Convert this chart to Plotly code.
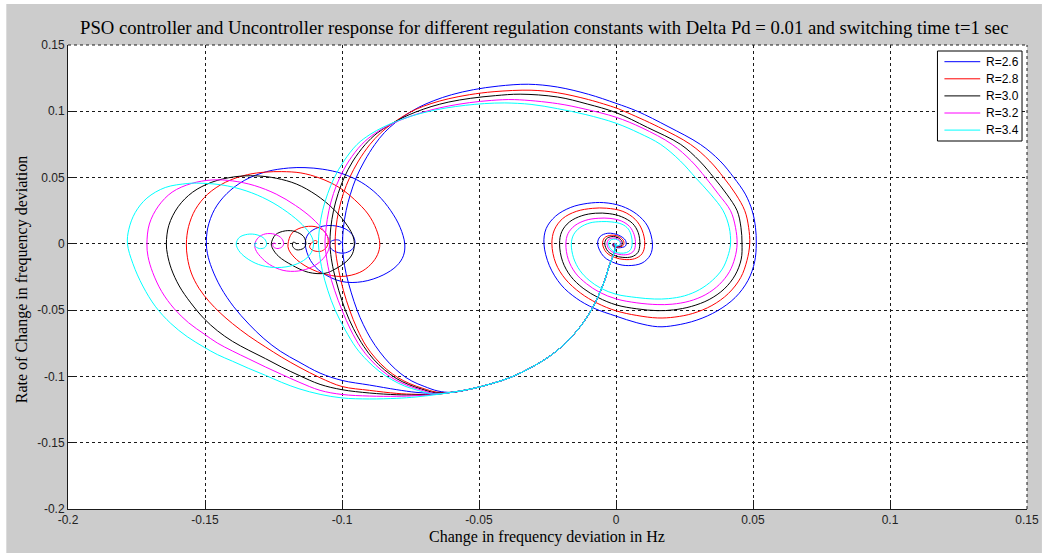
import plotly.graph_objects as go

# ---- data -------------------------------------------------------------
R_LABELS = ["R=2.6", "R=2.8", "R=3.0", "R=3.2", "R=3.4"]
LINE_COLORS = ["#0000ff", "#ff0000", "#000000", "#ff00ff", "#00ffff"]

# (frequency deviation, rate of change) points.
# Common part of every trajectory before switching (t < 1 s).
PRE_SWITCH = [(0, 0), (-0.0008, -0.0075), (-0.0022, -0.015), (-0.0045, -0.0296),
              (-0.0085, -0.048), (-0.013, -0.0623), (-0.0188, -0.0756), (-0.0248, -0.0856),
              (-0.0309, -0.0932), (-0.0382, -0.1005), (-0.0455, -0.1055), (-0.053, -0.1095),
              (-0.060, -0.112)]

# Uncontrolled response after t = 1 s (settles at a non-zero deviation).
UNC_26 = [(-0.066, -0.1128), (-0.073, -0.112), (-0.08, -0.110), (-0.09, -0.1065), (-0.1, -0.103),
          (-0.108, -0.0975), (-0.1157, -0.0891), (-0.1225, -0.081), (-0.1285, -0.0715),
          (-0.134, -0.0605), (-0.1395, -0.0475), (-0.1442, -0.033), (-0.1475, -0.0185),
          (-0.1491, -0.0075), (-0.1495, 0), (-0.149, 0.012), (-0.1465, 0.026), (-0.142, 0.038),
          (-0.1355, 0.048), (-0.1275, 0.0545), (-0.1195, 0.0572), (-0.1135, 0.0575),
          (-0.107, 0.0563), (-0.1, 0.053), (-0.093, 0.0465), (-0.087, 0.037), (-0.0822, 0.025),
          (-0.0788, 0.0125), (-0.0771, 0), (-0.0776, -0.009), (-0.08, -0.0165), (-0.085, -0.0235),
          (-0.0925, -0.0285), (-0.1001, -0.0284), (-0.1074, -0.0215), (-0.1115, -0.0125),
          (-0.1134, 0), (-0.1123, 0.0075), (-0.1085, 0.0125), (-0.1035, 0.0138), (-0.0985, 0.011),
          (-0.0958, 0.0055), (-0.0953, 0), (-0.0965, -0.0045), (-0.0995, -0.007),
          (-0.1028, -0.0055), (-0.1045, -0.002), (-0.1042, 0.0015), (-0.1025, 0.003),
          (-0.1008, 0.0025), (-0.1003, 0.001), (-0.101, -0.0005), (-0.1015, 0)]

UNC_28 = [(-0.066, -0.1135), (-0.073, -0.1135), (-0.08, -0.1128), (-0.09, -0.1105), (-0.1, -0.1076),
          (-0.108, -0.101), (-0.1157, -0.0929), (-0.122, -0.0855), (-0.1279, -0.0778),
          (-0.134, -0.0695), (-0.14, -0.0601), (-0.1445, -0.052), (-0.1484, -0.0437),
          (-0.1522, -0.0335), (-0.155, -0.022), (-0.1564, -0.0105), (-0.1568, 0), (-0.156, 0.013),
          (-0.1535, 0.026), (-0.149, 0.0375), (-0.1425, 0.0465), (-0.1345, 0.0522),
          (-0.128, 0.0541), (-0.122, 0.0545), (-0.115, 0.0535), (-0.108, 0.0495), (-0.101, 0.0425),
          (-0.0955, 0.0335), (-0.0905, 0.0225), (-0.0875, 0.011), (-0.0862, 0), (-0.087, -0.008),
          (-0.0895, -0.0155), (-0.0935, -0.0215), (-0.1001, -0.0246), (-0.1074, -0.0221),
          (-0.1135, -0.0165), (-0.1175, -0.01), (-0.1195, -0.004), (-0.1197, 0), (-0.1183, 0.008),
          (-0.1147, 0.0123), (-0.1098, 0.013), (-0.1065, 0.0095), (-0.1051, 0.004),
          (-0.1055, -0.002), (-0.1075, -0.0055), (-0.1105, -0.005), (-0.1118, -0.0025),
          (-0.1112, 0.0005), (-0.1097, 0.0025), (-0.109, 0.0015), (-0.1094, 0.0005), (-0.1096, 0)]

UNC_30 = [(-0.066, -0.1135), (-0.073, -0.114), (-0.08, -0.1138), (-0.09, -0.1125), (-0.1, -0.110),
          (-0.108, -0.106), (-0.1157, -0.0992), (-0.122, -0.093), (-0.1279, -0.0866),
          (-0.134, -0.0803), (-0.14, -0.0735), (-0.1455, -0.0655), (-0.1503, -0.0565),
          (-0.1552, -0.0445), (-0.1594, -0.0318), (-0.1623, -0.0188), (-0.1637, -0.008),
          (-0.1641, 0), (-0.1632, 0.014), (-0.1598, 0.028), (-0.1545, 0.039), (-0.1475, 0.0465),
          (-0.1395, 0.0505), (-0.1315, 0.0513), (-0.124, 0.0495), (-0.1165, 0.045),
          (-0.1095, 0.037), (-0.1035, 0.027), (-0.099, 0.0165), (-0.0962, 0.007), (-0.0955, 0),
          (-0.0962, -0.0075), (-0.0985, -0.0135), (-0.1025, -0.019), (-0.1062, -0.0222),
          (-0.1122, -0.0215), (-0.1183, -0.016), (-0.1231, -0.0095), (-0.1252, -0.004),
          (-0.1258, 0), (-0.1243, 0.0068), (-0.1207, 0.0098), (-0.1171, 0.0093), (-0.114, 0.0055),
          (-0.1132, 0), (-0.114, -0.0033), (-0.1165, -0.0045), (-0.118, -0.002),
          (-0.1178, 0.0013), (-0.1165, 0)]

UNC_32 = [(-0.066, -0.1135), (-0.073, -0.1145), (-0.08, -0.115), (-0.09, -0.1148), (-0.1, -0.1136),
          (-0.108, -0.1105), (-0.1157, -0.1043), (-0.122, -0.0985), (-0.1279, -0.0929),
          (-0.134, -0.0868), (-0.14, -0.0808), (-0.1455, -0.0748), (-0.1503, -0.068),
          (-0.156, -0.0595), (-0.1612, -0.049), (-0.1658, -0.036), (-0.1691, -0.0215),
          (-0.1708, -0.0095), (-0.1712, 0), (-0.1703, 0.015), (-0.167, 0.0285), (-0.162, 0.039),
          (-0.155, 0.0455), (-0.1474, 0.0482), (-0.14, 0.0475), (-0.132, 0.044), (-0.124, 0.0375),
          (-0.117, 0.029), (-0.111, 0.0195), (-0.1065, 0.0095), (-0.1048, 0.0035), (-0.1045, 0),
          (-0.1052, -0.006), (-0.1075, -0.0125), (-0.111, -0.0175), (-0.116, -0.0205),
          (-0.1215, -0.02), (-0.1265, -0.0155), (-0.1298, -0.0095), (-0.1315, -0.0045),
          (-0.1318, 0), (-0.1305, 0.0048), (-0.128, 0.0075), (-0.1245, 0.0072), (-0.122, 0.004),
          (-0.1213, 0), (-0.122, -0.0025), (-0.1238, -0.0035), (-0.1252, -0.0018),
          (-0.125, 0.0006), (-0.1241, 0)]

UNC_34 = [(-0.066, -0.1138), (-0.073, -0.1155), (-0.08, -0.1165), (-0.09, -0.117), (-0.1, -0.1162),
          (-0.108, -0.1135), (-0.1157, -0.1093), (-0.122, -0.1045), (-0.1279, -0.0992),
          (-0.134, -0.094), (-0.14, -0.0885), (-0.1455, -0.0835), (-0.1503, -0.078),
          (-0.1565, -0.070), (-0.1625, -0.060), (-0.168, -0.0475), (-0.1727, -0.0318),
          (-0.1763, -0.015), (-0.1783, 0), (-0.1778, 0.011), (-0.1755, 0.0235), (-0.1712, 0.0345),
          (-0.1645, 0.0425), (-0.1565, 0.0455), (-0.153, 0.0458), (-0.144, 0.0445), (-0.135, 0.04),
          (-0.127, 0.033), (-0.12, 0.024), (-0.1145, 0.0145), (-0.1112, 0.006), (-0.1104, 0),
          (-0.1112, -0.0065), (-0.114, -0.0125), (-0.119, -0.0168), (-0.125, -0.0178),
          (-0.1305, -0.0155), (-0.135, -0.0105), (-0.1377, -0.005), (-0.1386, 0),
          (-0.1375, 0.0048), (-0.1345, 0.0072), (-0.131, 0.0068), (-0.1283, 0.0038),
          (-0.1275, 0), (-0.1282, -0.0028), (-0.1302, -0.0035), (-0.1318, -0.0015),
          (-0.1316, 0.0008), (-0.131, 0)]

# PSO-controlled response after t = 1 s (returns to zero deviation).
CTRL_26 = [(-0.065, -0.111), (-0.070, -0.1075), (-0.0745, -0.1035), (-0.0785, -0.098),
           (-0.0825, -0.0905), (-0.0862, -0.0815), (-0.0895, -0.0715), (-0.0922, -0.061),
           (-0.0945, -0.05), (-0.0966, -0.037), (-0.0985, -0.0225), (-0.0995, -0.01),
           (-0.0998, 0), (-0.0995, 0.012), (-0.0985, 0.025), (-0.097, 0.037), (-0.0948, 0.05),
           (-0.0918, 0.0625), (-0.088, 0.075), (-0.0845, 0.084), (-0.0805, 0.0915),
           (-0.0765, 0.0975), (-0.072, 0.103), (-0.0665, 0.108), (-0.06, 0.1125), (-0.052, 0.1163),
           (-0.043, 0.119), (-0.032, 0.1204), (-0.0214, 0.1183), (-0.01, 0.1128), (0, 0.106),
           (0.0078, 0.1), (0.019, 0.0885), (0.0308, 0.075), (0.038, 0.0625), (0.043, 0.05),
           (0.0472, 0.0375), (0.0497, 0.025), (0.0509, 0.0125), (0.0512, 0), (0.0506, -0.0135),
           (0.0482, -0.0275), (0.0435, -0.0405), (0.037, -0.0505), (0.0295, -0.0575),
           (0.0215, -0.0615), (0.0152, -0.0625), (0.0076, -0.0595), (0, -0.0545),
           (-0.0081, -0.0485), (-0.0145, -0.041), (-0.02, -0.031), (-0.0243, -0.0165),
           (-0.0263, 0), (-0.0255, 0.0115), (-0.022, 0.021), (-0.0165, 0.0275), (-0.0105, 0.0305),
           (-0.0045, 0.0311), (0.002, 0.0285), (0.0075, 0.0225), (0.0115, 0.0135), (0.0133, 0),
           (0.0125, -0.0085), (0.0095, -0.0145), (0.0045, -0.0164), (0, -0.0148),
           (-0.0045, -0.0095), (-0.0067, 0), (-0.0058, 0.0055), (-0.003, 0.008), (0.001, 0.0065),
           (0.0035, 0.0025), (0.0035, -0.0015), (0.001, -0.003), (-0.001, -0.002), (-0.0012, 0),
           (0, 0)]

CTRL_28 = [(-0.0655, -0.1118), (-0.0705, -0.109), (-0.0752, -0.1055), (-0.0795, -0.101),
           (-0.0838, -0.0945), (-0.0878, -0.0862), (-0.0912, -0.077), (-0.0945, -0.064),
           (-0.0972, -0.05), (-0.0995, -0.035), (-0.1012, -0.02), (-0.1022, -0.008), (-0.1025, 0),
           (-0.1022, 0.012), (-0.1012, 0.025), (-0.0995, 0.038), (-0.0972, 0.05), (-0.094, 0.0625),
           (-0.0898, 0.075), (-0.086, 0.0835), (-0.0818, 0.0905), (-0.0775, 0.0965),
           (-0.073, 0.1015), (-0.0675, 0.1058), (-0.061, 0.1095), (-0.0535, 0.1125),
           (-0.0445, 0.1148), (-0.031, 0.1159), (-0.0214, 0.114), (-0.01, 0.1088), (0, 0.1025),
           (0.003, 0.1), (0.0155, 0.0882), (0.0272, 0.075), (0.0342, 0.0625), (0.0393, 0.05),
           (0.0437, 0.0375), (0.047, 0.025), (0.0484, 0.0125), (0.0488, 0), (0.0478, -0.0125),
           (0.0455, -0.0255), (0.041, -0.0375), (0.035, -0.0465), (0.028, -0.0525),
           (0.0215, -0.0552), (0.0152, -0.0559), (0.0076, -0.054), (0, -0.0505),
           (-0.0069, -0.0447), (-0.013, -0.037), (-0.0185, -0.0265), (-0.022, -0.0145),
           (-0.0234, 0), (-0.0225, 0.0105), (-0.0195, 0.019), (-0.0145, 0.0245), (-0.0085, 0.0268),
           (-0.0035, 0.0269), (0.0025, 0.0245), (0.007, 0.0185), (0.0095, 0.0105), (0.0105, 0),
           (0.0095, -0.0075), (0.0068, -0.0112), (0.003, -0.0118), (-0.0005, -0.0102),
           (-0.0035, -0.0065), (-0.0049, 0), (-0.0042, 0.0045), (-0.0018, 0.0065), (0.001, 0.0055),
           (0.0028, 0.002), (0.0026, -0.0012), (0.0008, -0.0025), (-0.0008, -0.0018), (-0.001, 0),
           (0, 0)]

CTRL_30 = [(-0.066, -0.1123), (-0.071, -0.1095), (-0.0758, -0.106), (-0.0802, -0.1015),
           (-0.0845, -0.095), (-0.0885, -0.087), (-0.092, -0.0775), (-0.0958, -0.064),
           (-0.0988, -0.05), (-0.1012, -0.035), (-0.1031, -0.02), (-0.1041, -0.008), (-0.1044, 0),
           (-0.1041, 0.012), (-0.1031, 0.025), (-0.1014, 0.038), (-0.0992, 0.05), (-0.096, 0.0625),
           (-0.0915, 0.075), (-0.0872, 0.0835), (-0.0828, 0.0895), (-0.078, 0.095),
           (-0.073, 0.0995), (-0.0675, 0.1035), (-0.061, 0.107), (-0.053, 0.1098),
           (-0.044, 0.1118), (-0.035, 0.1129), (-0.0214, 0.1108), (-0.0105, 0.1055), (0, 0.099),
           (0.0115, 0.0878), (0.0236, 0.075), (0.0305, 0.0625), (0.0357, 0.05), (0.0404, 0.0375),
           (0.0442, 0.025), (0.0456, 0.0125), (0.046, 0), (0.0457, -0.0115), (0.0435, -0.0235),
           (0.0395, -0.034), (0.034, -0.042), (0.0275, -0.0472), (0.021, -0.0498),
           (0.0152, -0.0504), (0.0076, -0.049), (0, -0.046), (-0.0065, -0.0405), (-0.012, -0.0335),
           (-0.0165, -0.0245), (-0.0195, -0.0132), (-0.0206, 0), (-0.0198, 0.0092),
           (-0.017, 0.0165), (-0.0125, 0.0212), (-0.0075, 0.0231), (-0.0025, 0.0228),
           (0.002, 0.0205), (0.006, 0.0155), (0.0081, 0.0085), (0.0087, 0), (0.008, -0.0065),
           (0.0058, -0.0097), (0.0025, -0.0102), (-0.0005, -0.0088), (-0.003, -0.0055),
           (-0.0041, 0), (-0.0035, 0.0038), (-0.0015, 0.0055), (0.0008, 0.0046), (0.0022, 0.0017),
           (0.0021, -0.001), (0.0007, -0.0021), (-0.0006, -0.0015), (-0.0008, 0), (0, 0)]

CTRL_32 = [(-0.0665, -0.1127), (-0.0715, -0.11), (-0.0765, -0.1065), (-0.081, -0.102),
           (-0.0855, -0.0955), (-0.0895, -0.0875), (-0.0932, -0.078), (-0.0968, -0.065),
           (-0.1, -0.05), (-0.1027, -0.035), (-0.1048, -0.02), (-0.1058, -0.008), (-0.1062, 0),
           (-0.1058, 0.012), (-0.1048, 0.025), (-0.1031, 0.038), (-0.1008, 0.05),
           (-0.0975, 0.0625), (-0.0928, 0.075), (-0.0882, 0.083), (-0.0835, 0.0888),
           (-0.0785, 0.0935), (-0.0732, 0.0975), (-0.0675, 0.101), (-0.061, 0.104),
           (-0.0535, 0.1065), (-0.0455, 0.1082), (-0.037, 0.1088), (-0.0214, 0.1058),
           (-0.011, 0.1015), (0, 0.0955), (0.0095, 0.0875), (0.0205, 0.075), (0.0275, 0.0625),
           (0.0327, 0.05), (0.0374, 0.0375), (0.0418, 0.025), (0.0436, 0.0125), (0.0442, 0),
           (0.0434, -0.0105), (0.0414, -0.021), (0.0378, -0.0305), (0.0328, -0.0382),
           (0.0268, -0.0432), (0.0205, -0.0455), (0.015, -0.0458), (0.0076, -0.0445),
           (0, -0.0415), (-0.006, -0.0365), (-0.0108, -0.03), (-0.0148, -0.022),
           (-0.0174, -0.0118), (-0.0183, 0), (-0.0175, 0.0078), (-0.015, 0.0138), (-0.011, 0.0178),
           (-0.0065, 0.0193), (-0.0022, 0.0192), (0.002, 0.0172), (0.005, 0.013), (0.0066, 0.007),
           (0.0071, 0), (0.0065, -0.0052), (0.0047, -0.0078), (0.002, -0.0082), (-0.0005, -0.007),
           (-0.0024, -0.0045), (-0.0033, 0), (-0.0028, 0.003), (-0.0012, 0.0044), (0.0006, 0.0037),
           (0.0018, 0.0014), (0.0017, -0.0008), (0.0006, -0.0017), (-0.0005, -0.0012),
           (-0.0006, 0), (0, 0)]

CTRL_34 = [(-0.067, -0.1132), (-0.072, -0.1107), (-0.0772, -0.1072), (-0.0818, -0.1025),
           (-0.0865, -0.096), (-0.0908, -0.088), (-0.0948, -0.0785), (-0.0988, -0.065),
           (-0.1025, -0.05), (-0.1052, -0.035), (-0.1072, -0.02), (-0.1082, -0.008), (-0.1086, 0),
           (-0.1082, 0.012), (-0.1071, 0.025), (-0.1052, 0.038), (-0.1028, 0.05),
           (-0.0993, 0.0625), (-0.0945, 0.075), (-0.0898, 0.0825), (-0.085, 0.088),
           (-0.08, 0.0925), (-0.0745, 0.0965), (-0.0685, 0.0998), (-0.062, 0.1025),
           (-0.055, 0.1045), (-0.048, 0.1058), (-0.0406, 0.1063), (-0.031, 0.1052),
           (-0.0214, 0.102), (-0.011, 0.0975), (0, 0.091), (0.0085, 0.0835), (0.0163, 0.075),
           (0.0235, 0.0625), (0.029, 0.05), (0.0345, 0.0375), (0.0391, 0.025), (0.0413, 0.0125),
           (0.0418, 0), (0.0408, -0.0095), (0.0388, -0.019), (0.0352, -0.0275), (0.0305, -0.0345),
           (0.025, -0.0392), (0.0192, -0.0413), (0.014, -0.0416), (0.0076, -0.0405), (0, -0.038),
           (-0.0055, -0.0335), (-0.0098, -0.0275), (-0.0132, -0.02), (-0.0155, -0.0105),
           (-0.0163, 0), (-0.0155, 0.0068), (-0.0132, 0.0122), (-0.0095, 0.0158),
           (-0.0052, 0.0168), (-0.0015, 0.0165), (0.0022, 0.0148), (0.0045, 0.0112),
           (0.0056, 0.006), (0.0059, 0), (0.0053, -0.0044), (0.0038, -0.0066), (0.0015, -0.007),
           (-0.0005, -0.006), (-0.002, -0.0038), (-0.0027, 0), (-0.0022, 0.0025), (-0.001, 0.0036),
           (0.0005, 0.003), (0.0015, 0.0011), (0.0014, -0.0007), (0.0005, -0.0014),
           (-0.0004, -0.001), (-0.0005, 0), (0, 0)]

UNCONTROLLED = [UNC_26, UNC_28, UNC_30, UNC_32, UNC_34]
CONTROLLED = [CTRL_26, CTRL_28, CTRL_30, CTRL_32, CTRL_34]

TICKS = [-0.2, -0.15, -0.1, -0.05, 0, 0.05, 0.1, 0.15]
TICK_TEXT = ["-0.2", "-0.15", "-0.1", "-0.05", "0", "0.05", "0.1", "0.15"]

TITLE = ("PSO controller and Uncontroller response for different regulation "
         "constants with Delta Pd = 0.01 and switching time t=1 sec")
X_TITLE = "Change in frequency deviation in Hz"
Y_TITLE = "Rate of Change in frequency deviation"

# ---- figure -----------------------------------------------------------
W, H = 1051, 554
ML, MR, MT, MB = 68, 19, 45, 45
PW, PH = W - ML - MR, H - MT - MB
SERIF = "Liberation Serif, Times New Roman, serif"
SANS = "Liberation Sans, Arial, sans-serif"


def px_x(p):
    return (p - ML) / PW


def px_y(p):
    return (H - MB - p) / PH


def xy(points):
    return [p[0] for p in points], [p[1] for p in points]


fig = go.Figure()
for i, name in enumerate(R_LABELS):
    for branch in (UNCONTROLLED[i], CONTROLLED[i]):
        xs, ys = xy(PRE_SWITCH + branch)
        fig.add_trace(go.Scatter(
            x=xs, y=ys, mode="lines", name=name, legendgroup=name, showlegend=False,
            line=dict(color=LINE_COLORS[i], width=1, shape="spline", smoothing=1.0),
            hoverinfo="skip"))

axis_common = dict(
    range=[-0.2, 0.15], tickvals=TICKS, ticktext=TICK_TEXT,
    showgrid=True, gridcolor="#1a1a1a", griddash="dot", gridwidth=1,
    showline=True, linecolor="#1a1a1a", linewidth=1, mirror=False,
    ticks="inside", ticklen=9, tickcolor="#1a1a1a", zeroline=False,
    tickfont=dict(family=SANS, size=12, color="#222222"),
    fixedrange=True,
)

shapes = [
    # grey figure window
    dict(type="rect", xref="paper", yref="paper", layer="below",
         x0=px_x(6), x1=px_x(1047), y0=px_y(553), y1=px_y(4),
         fillcolor="#cccccc", line=dict(width=0)),
    # white axes area
    dict(type="rect", xref="paper", yref="paper", layer="below",
         x0=0, x1=1, y0=0, y1=1, fillcolor="#ffffff", line=dict(width=0)),
    # dotted top and right box edges
    dict(type="line", xref="paper", yref="paper", layer="between",
         x0=0, x1=1, y0=1, y1=1, line=dict(color="#1a1a1a", width=1, dash="dot")),
    dict(type="line", xref="paper", yref="paper", layer="between",
         x0=1, x1=1, y0=0, y1=1, line=dict(color="#1a1a1a", width=1, dash="dot")),
    # legend box
    dict(type="rect", xref="paper", yref="paper", layer="above",
         x0=px_x(942), x1=px_x(1027), y0=px_y(141), y1=px_y(51),
         fillcolor="#ffffff", line=dict(color="#000000", width=1)),
]

annotations = [
    dict(text=TITLE, xref="paper", yref="paper", x=px_x(546.5), y=px_y(27),
         xanchor="center", yanchor="middle", showarrow=False,
         font=dict(family=SERIF, size=18.7, color="#000000")),
    dict(text=X_TITLE, xref="paper", yref="paper", x=px_x(549), y=px_y(537),
         xanchor="center", yanchor="middle", showarrow=False,
         font=dict(family=SERIF, size=16, color="#000000")),
    dict(text=Y_TITLE, xref="paper", yref="paper", x=px_x(22), y=px_y(280),
         xanchor="center", yanchor="middle", showarrow=False, textangle=-90,
         font=dict(family=SERIF, size=16, color="#000000")),
]

# legend entries: coloured sample line and label for each regulation constant
for i, name in enumerate(R_LABELS):
    row = 61.7 + 17.1 * i
    shapes.append(dict(type="line", xref="paper", yref="paper", layer="above",
                       x0=px_x(949), x1=px_x(985), y0=px_y(row), y1=px_y(row),
                       line=dict(color=LINE_COLORS[i], width=1)))
    annotations.append(dict(text=name, xref="paper", yref="paper", x=px_x(989),
                            y=px_y(row), xanchor="left", yanchor="middle",
                            showarrow=False,
                            font=dict(family=SANS, size=12, color="#000000")))

fig.update_layout(
    width=W, height=H,
    margin=dict(l=ML, r=MR, t=MT, b=MB),
    paper_bgcolor="#ffffff", plot_bgcolor="#ffffff",
    xaxis=axis_common, yaxis=axis_common,
    showlegend=False,
    shapes=shapes,
    annotations=annotations,
)

fig.write_html("out.html")
